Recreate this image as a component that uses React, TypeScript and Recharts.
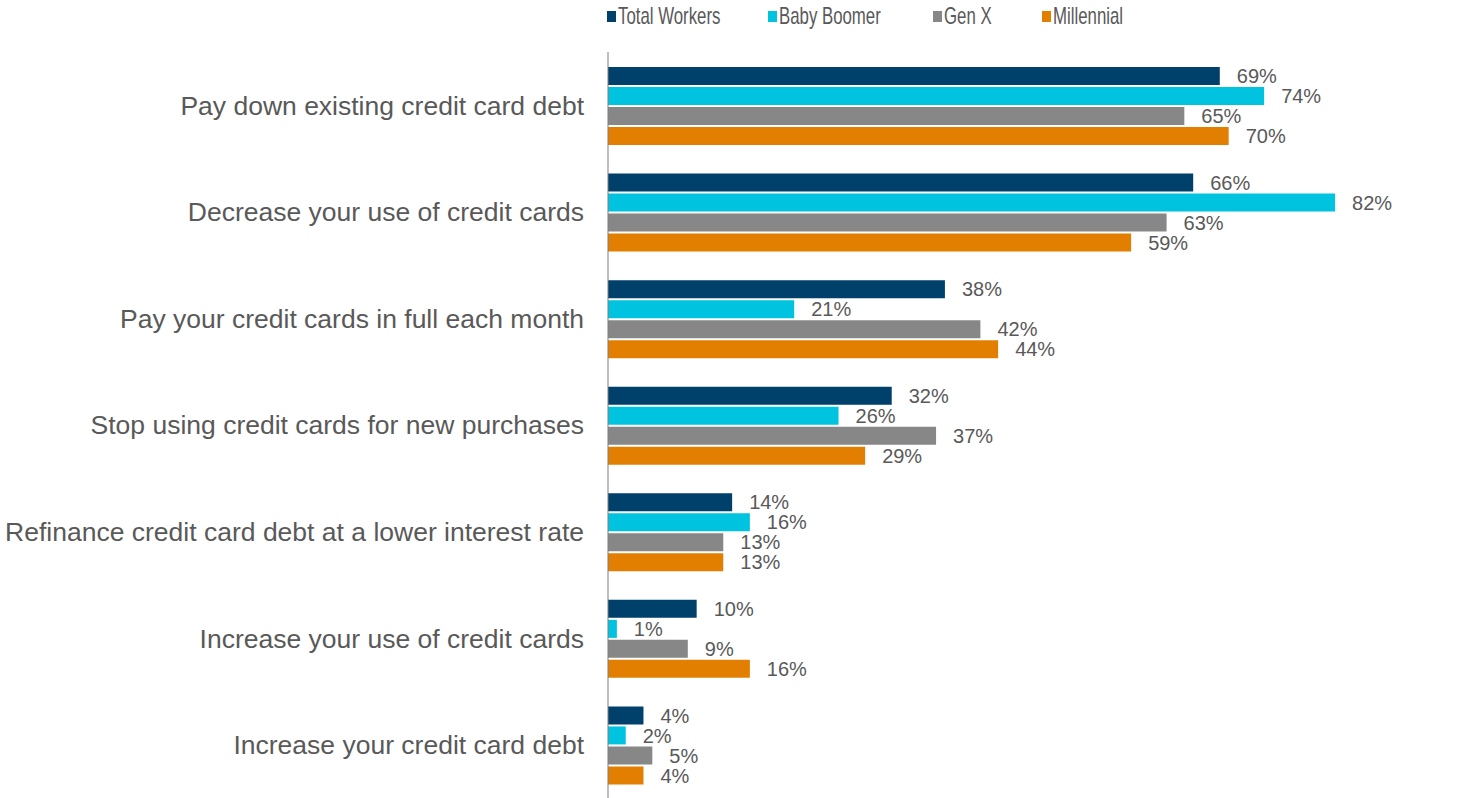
import { BarChart, Bar, XAxis, YAxis, Legend, LabelList } from 'recharts';

const categories = [
  'Pay down existing credit card debt',
  'Decrease your use of credit cards',
  'Pay your credit cards in full each month',
  'Stop using credit cards for new purchases',
  'Refinance credit card debt at a lower interest rate',
  'Increase your use of credit cards',
  'Increase your credit card debt',
];

const totalWorkers = [69, 66, 38, 32, 14, 10, 4];
const babyBoomer = [74, 82, 21, 26, 16, 1, 2];
const genX = [65, 63, 42, 37, 13, 9, 5];
const millennial = [70, 59, 44, 29, 13, 16, 4];

const series = [
  { key: 'total', name: 'Total Workers', color: '#00416B' },
  { key: 'boomer', name: 'Baby Boomer', color: '#00C3DF' },
  { key: 'genx', name: 'Gen X', color: '#878787' },
  { key: 'millennial', name: 'Millennial', color: '#E37F00' },
];

const data = categories.map((c, i) => ({
  name: c,
  total: totalWorkers[i],
  boomer: babyBoomer[i],
  genx: genX[i],
  millennial: millennial[i],
}));

const TEXT = '#595959';
const FONT = '"Liberation Sans", Arial, sans-serif';
// left edge of each legend swatch
const legendX = [607, 768, 933, 1042];

function TopLegend() {
  return (
    <div style={{ position: 'relative', height: 32, width: 1460 }}>
      {series.map((s, i) => (
        <div
          key={s.key}
          style={{
            position: 'absolute',
            left: legendX[i],
            top: 0,
            height: 32,
            display: 'flex',
            alignItems: 'center',
            fontFamily: FONT,
            fontSize: 24,
            lineHeight: '32px',
            color: TEXT,
            whiteSpace: 'nowrap',
          }}
        >
          <span style={{ display: 'inline-block', width: 9, height: 11, background: s.color, marginRight: 2 }} />
          {/* the original legend uses a narrow face */}
          <span style={{ display: 'inline-block', transform: 'scaleX(0.7)', transformOrigin: 'left center' }}>
            {s.name}
          </span>
        </div>
      ))}
    </div>
  );
}

export default function App() {
  return (
    <div style={{ position: 'absolute', left: 0, top: 0, width: 1460, height: 798, background: '#fff' }}>
      <BarChart
        width={1460}
        height={798}
        data={data}
        layout="vertical"
        margin={{ top: 20, right: 54, bottom: 0, left: 0 }}
        barCategoryGap={15}
        barGap={2}
      >
        <Legend verticalAlign="top" content={() => <TopLegend />} wrapperStyle={{ top: 0, left: 0, width: 1460 }} />
        <XAxis type="number" domain={[0, 90]} hide />
        <YAxis
          type="category"
          dataKey="name"
          width={608}
          tickLine={false}
          tickMargin={18}
          axisLine={{ stroke: '#7F7F7F' }}
          tick={{ fill: TEXT, fontSize: 26.5, fontFamily: FONT }}
          interval={0}
        />
        {series.map((s) => (
          <Bar key={s.key} dataKey={s.key} name={s.name} fill={s.color} isAnimationActive={false}>
            <LabelList
              dataKey={s.key}
              position="right"
              offset={17}
              formatter={(v) => String(v) + '%'}
              style={{ fill: TEXT, fontSize: 20, fontFamily: FONT }}
            />
          </Bar>
        ))}
      </BarChart>
    </div>
  );
}
